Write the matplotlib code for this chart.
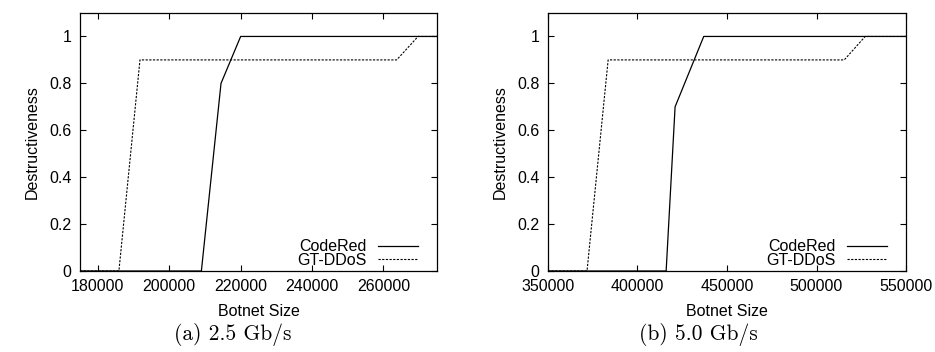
import matplotlib
matplotlib.use("Agg")
import matplotlib.pyplot as plt

# data
# (a) 2.5 Gb/s
a_code_x = [175000, 209000, 214500, 220000, 275000]
a_code_y = [0, 0, 0.8, 1.0, 1.0]
a_gt_x = [175000, 185900, 191800, 263700, 269700, 275000]
a_gt_y = [0, 0, 0.9, 0.9, 1.0, 1.0]
# (b) 5.0 Gb/s
b_code_x = [350000, 416000, 421000, 437000, 550000]
b_code_y = [0, 0, 0.7, 1.0, 1.0]
b_gt_x = [350000, 371800, 383600, 515500, 527200, 550000]
b_gt_y = [0, 0, 0.9, 0.9, 1.0, 1.0]

a_xticks = [180000, 200000, 220000, 240000, 260000]
b_xticks = [350000, 400000, 450000, 500000, 550000]
yticks = [0, 0.2, 0.4, 0.6, 0.8, 1]
ytick_labels = ["0", "0.2", "0.4", "0.6", "0.8", "1"]

plt.rcParams['font.family'] = ['Liberation Sans', 'DejaVu Sans']
plt.rcParams['font.size'] = 11.5

fig = plt.figure(figsize=(9.35, 3.52), dpi=100)
ax1 = fig.add_axes([80/935, 1-271/352, 357/935, 258/352])
ax2 = fig.add_axes([548/935, 1-271/352, 358/935, 258/352])

panels = [
    (ax1, a_code_x, a_code_y, a_gt_x, a_gt_y, a_xticks, (175000, 275000), "(a) 2.5 Gb/s", 233),
    (ax2, b_code_x, b_code_y, b_gt_x, b_gt_y, b_xticks, (350000, 550000), "(b) 5.0 Gb/s", 698),
]

for ax, cx, cy, gx, gy, xt, xl, cap, capx in panels:
    ax.plot(cx, cy, color='black', lw=0.9, label='CodeRed')
    ax.plot(gx, gy, color='black', lw=0.8, linestyle=(0, (2, 1.3)), label='GT-DDoS')
    ax.set_xlim(*xl)
    ax.set_ylim(0, 1.1)
    ax.set_xticks(xt)
    ax.set_xticklabels([str(v) for v in xt])
    ax.set_yticks(yticks)
    ax.set_yticklabels(ytick_labels)
    ax.tick_params(direction='in', top=True, right=True, length=4, width=0.8, pad=6, labelsize=11.5)
    for s in ax.spines.values():
        s.set_linewidth(0.9)
    ax.set_xlabel("Botnet Size", fontsize=11.5, labelpad=7)
    ax.set_ylabel("Destructiveness", fontsize=11.5, labelpad=7)
    ax.legend(loc='lower right', frameon=False, markerfirst=False, handlelength=2.5,
              handletextpad=0.7, labelspacing=-0.1, borderaxespad=0.0, fontsize=11.5,
              bbox_to_anchor=(0.965, -0.012))
    fig.text(capx/935, 1-334/352, cap, ha='center', va='center',
             family='cmr10', fontsize=15.5)

fig.savefig("out.png", dpi=100)
